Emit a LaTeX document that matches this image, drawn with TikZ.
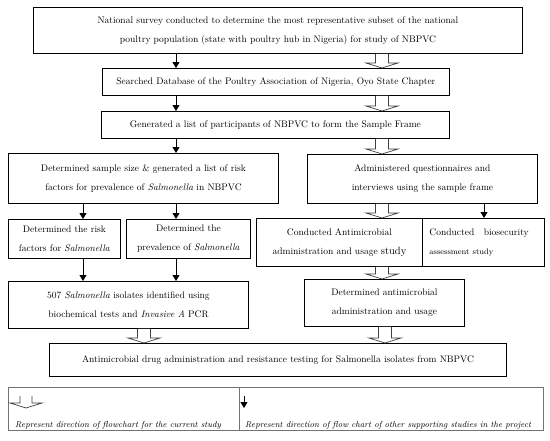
\documentclass[tikz,border=0pt]{standalone}
\usetikzlibrary{arrows.meta,calc}
\begin{document}
\begin{tikzpicture}[x=1pt,y=-1pt,
  box/.style={draw=black,line width=0.9pt,inner sep=0pt,anchor=north west,align=center,
    font=\fontsize{9.5}{19}\selectfont},
  sarrow/.style={draw=black,line width=0.8pt,-{Triangle[width=7pt,length=6pt]}},
  harrow/.style={draw=black!75,line width=0.7pt,fill=white,line join=miter},
  legbox/.style={draw=black!55,line width=0.6pt,inner sep=0pt,anchor=north west},
  legtxt/.style={anchor=base west,inner sep=0pt,font=\fontsize{8.6}{10}\selectfont\itshape}]
\useasboundingbox (0,0) rectangle (550,440);
\fill[white] (0,0) rectangle (550,440);
% hollow arrow macro: #2 top point, #3 tip point (named coordinates)
\newcommand{\hollowarr}[3][6.5]{%
  \path[harrow] ($(#2)+(-#1,0)$) -- ($(#3)+(-#1,-5)$) -- ($(#3)+(-16,-5)$) -- (#3)
   -- ($(#3)+(16,-5)$) -- ($(#3)+(#1,-5)$) -- ($(#2)+(#1,0)$);}
% boxes
\node[box,minimum width=489pt,minimum height=46pt] (b1) at (33,7)
  {National survey conducted to determine the most representative subset of the national\\poultry population (state with poultry hub in Nigeria) for study of NBPVC};
\node[box,minimum width=347pt,minimum height=27pt] (b2) at (102,68)
  {Searched Database of the Poultry Association of Nigeria, Oyo State Chapter};
\node[box,minimum width=348pt,minimum height=27pt] (b3) at (101,111)
  {Generated a list of participants of NBPVC to form the Sample Frame};
\node[box,minimum width=270pt,minimum height=50pt] (b4) at (8,153)
  {Determined sample size \& generated a list of risk\\factors for prevalence of \textit{Salmonella} in NBPVC};
\node[box,minimum width=230pt,minimum height=49pt] (b5) at (307,154)
  {Administered questionnaires and\\interviews using the sample frame};
\node[box,minimum width=112pt,minimum height=39pt] (b6) at (8,219)
  {Determined the risk\\factors for \textit{Salmonella}};
\node[box,minimum width=124pt,minimum height=39pt] (b7) at (126,219)
  {Determined the\\prevalence of \textit{Salmonella}};
\node[box,minimum width=166pt,minimum height=48pt] (b8) at (256,218)
  {Conducted Antimicrobial\\administration and usage {\fontsize{10.5}{19}\selectfont study}};
\node[box,minimum width=122pt,minimum height=48pt,align=left,text width=108pt] (b9) at (422,218)
  {Conducted\ \ \ biosecurity\\{\fontsize{8}{19}\selectfont assessment study}};
\node[box,minimum width=240pt,minimum height=47pt] (b10) at (8,281)
  {507 \textit{Salmonella} isolates identified using\\biochemical tests and \textit{Invasive A} PCR};
\node[box,minimum width=160pt,minimum height=47pt] (b11) at (304,279)
  {Determined antimicrobial\\administration and usage};
\node[box,minimum width=457pt,minimum height=33pt] (b12) at (49,343)
  {Antimicrobial drug administration and resistance testing for Salmonella isolates from NBPVC};
% legend
\node[legbox,minimum width=231pt,minimum height=43pt] (lg1) at (8,387) {};
\node[legbox,minimum width=304pt,minimum height=43pt] (lg2) at (239,387) {};
\node[legtxt] (lt1) at (15,427) {Represent direction of flowchart for the current study};
\node[legtxt] (lt2) at (245,427) {Represent direction of flow chart of other supporting studies in the project};
% guide coordinates
\coordinate (xa) at (176,0);
\coordinate (xb) at (83,0);
\coordinate (xh) at (382,0);
\coordinate (xs) at (484,0);
\coordinate (xl) at (144,0);
\coordinate (xr) at (385,0);
% small arrows
\draw[sarrow] (b1.south -| xa) -- (b2.north -| xa);
\draw[sarrow] (b2.south -| xa) -- (b3.north -| xa);
\draw[sarrow] (b3.south -| xa) -- (b4.north -| xa);
\draw[sarrow] (b4.south -| xb) -- (b6.north -| xb);
\draw[sarrow] (b4.south -| xa) -- (b7.north -| xa);
\draw[sarrow] (b5.south -| xs) -- (b9.north -| xs);
\draw[sarrow] (b6.south -| xb) -- (b10.north -| xb);
\draw[sarrow] (b7.south -| xa) -- (b10.north -| xa);
% hollow arrows
\coordinate (h1a) at (b1.south -| xh); \coordinate (h1b) at (b2.north -| xh);
\coordinate (h2a) at (b2.south -| xh); \coordinate (h2b) at (b3.north -| xh);
\coordinate (h3a) at (b3.south -| xh); \coordinate (h3b) at (b5.north -| xh);
\coordinate (h4a) at (b5.south -| xh); \coordinate (h4b) at (b8.north -| xh);
\coordinate (h5a) at (b8.south -| xh); \coordinate (h5b) at (b11.north -| xh);
\coordinate (h6a) at (b10.south -| xl); \coordinate (h6b) at (b12.north -| xl);
\coordinate (h7a) at (b11.south -| xr); \coordinate (h7b) at (b12.north -| xr);
\hollowarr{h1a}{h1b}
\hollowarr{h2a}{h2b}
\hollowarr{h3a}{h3b}
\hollowarr{h4a}{h4b}
\hollowarr{h5a}{h5b}
\hollowarr{h6a}{h6b}
\hollowarr{h7a}{h7b}
% legend arrows
\coordinate (la1) at (26,396);
\coordinate (la2) at (26,408);
\hollowarr[6]{la1}{la2}
\coordinate (ls1) at (244,396);
\coordinate (ls2) at (244,408);
\draw[sarrow] (ls1) -- (ls2);
\end{tikzpicture}
\end{document}
